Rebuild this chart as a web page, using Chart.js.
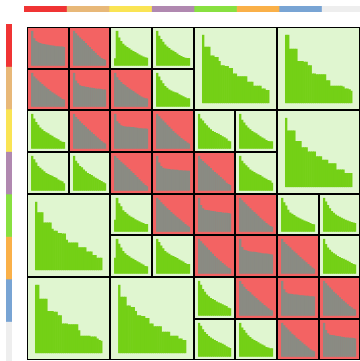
<!DOCTYPE html>
<html>
<head>
<meta charset="utf-8">
<script src="https://cdn.jsdelivr.net/npm/chart.js@4.4.1/dist/chart.umd.min.js"></script>
<style>
  html, body { margin: 0; padding: 0; background: #fff; }
  body { width: 360px; height: 361px; overflow: hidden; position: relative; }
  .block { position: absolute; box-sizing: border-box; box-shadow: inset 0 0 0 1px #000; }
  .block canvas { position: absolute; left: 0; top: 0; }
  .strip { position: absolute; }
</style>
</head>
<body>
<canvas id="strip-top" class="strip" width="340" height="6" style="left:24px;top:6px"></canvas>
<canvas id="strip-left" class="strip" width="6" height="340" style="left:6px;top:24px"></canvas>
<div id="grid"></div>
<script>
/* hierarchical matrix blocks: dense (red) vs low-rank (green), each with its singular value profile */

// clusters along both axes
const clusters = ["c1", "c2", "c3", "c4", "c5", "c6", "c7", "c8"];
const clusterSize = [1, 1, 1, 1, 1, 1, 1, 1];
const clusterColors = ["#f03434", "#e8b878", "#fae454", "#b088b0", "#88e040", "#fab048", "#78a4d4", "#eeeeee"];

// block layout (in cluster units)
const blockRow  = [0, 0, 0, 0, 0, 0, 1, 1, 1, 1, 2, 2, 2, 2, 2, 2, 2, 3, 3, 3, 3, 3, 3, 4, 4, 4, 4, 4, 4, 4, 5, 5, 5, 5, 5, 5, 6, 6, 6, 6, 6, 6, 7, 7, 7, 7];
const blockCol  = [0, 1, 2, 3, 4, 6, 0, 1, 2, 3, 0, 1, 2, 3, 4, 5, 6, 0, 1, 2, 3, 4, 5, 0, 2, 3, 4, 5, 6, 7, 2, 3, 4, 5, 6, 7, 0, 2, 4, 5, 6, 7, 4, 5, 6, 7];
const blockSpan = [1, 1, 1, 1, 2, 2, 1, 1, 1, 1, 1, 1, 1, 1, 1, 1, 2, 1, 1, 1, 1, 1, 1, 2, 1, 1, 1, 1, 1, 1, 1, 1, 1, 1, 1, 1, 2, 2, 1, 1, 1, 1, 1, 1, 1, 1];
const blockKind = ["D", "D", "L", "L", "L", "L", "D", "D", "D", "L", "L", "D", "D", "D", "L", "L", "L", "L", "L", "D", "D", "D", "L", "L", "L", "D", "D", "D", "L", "L", "L", "L", "D", "D", "D", "L", "L", "L", "L", "D", "D", "D", "L", "L", "D", "D"];

// normalised singular values per block
const sv_0_0 = [1.0, 0.78, 0.70, 0.66, 0.64, 0.62, 0.61, 0.60, 0.59, 0.58, 0.57, 0.56, 0.55, 0.55, 0.54, 0.54, 0.53];
const sv_0_1 = [1.0, 0.92, 0.86, 0.80, 0.75, 0.70, 0.64, 0.58, 0.53, 0.47, 0.41, 0.36, 0.30, 0.25, 0.21, 0.18, 0.16];
const sv_0_2 = [0.20, 1.0, 0.80, 0.70, 0.62, 0.57, 0.53, 0.49, 0.45, 0.41, 0.38, 0.35, 0.31, 0.28, 0.25, 0.23, 0.22];
const sv_0_3 = [1.0, 0.85, 0.76, 0.68, 0.60, 0.54, 0.50, 0.45, 0.42, 0.38, 0.34, 0.30, 0.27, 0.24, 0.22, 0.21, 0.21];
const sv_0_4 = [1.0, 0.82, 0.82, 0.82, 0.69, 0.69, 0.67, 0.67, 0.61, 0.55, 0.55, 0.54, 0.54, 0.51, 0.51, 0.43, 0.43, 0.39, 0.39, 0.39, 0.39, 0.39, 0.31, 0.31, 0.31, 0.25, 0.25, 0.25, 0.25, 0.21, 0.21, 0.19, 0.19];
const sv_0_6 = [1.0, 1.0, 0.79, 0.79, 0.79, 0.79, 0.61, 0.61, 0.61, 0.60, 0.60, 0.55, 0.55, 0.43, 0.43, 0.42, 0.42, 0.42, 0.42, 0.42, 0.33, 0.33, 0.25, 0.25, 0.25, 0.25, 0.25, 0.25, 0.24, 0.21, 0.21, 0.20, 0.18];
const sv_1_0 = [1.0, 0.88, 0.82, 0.76, 0.71, 0.66, 0.61, 0.56, 0.51, 0.46, 0.42, 0.38, 0.34, 0.30, 0.26, 0.22, 0.20];
const sv_1_1 = [1.0, 0.76, 0.68, 0.62, 0.60, 0.59, 0.58, 0.57, 0.56, 0.55, 0.54, 0.53, 0.52, 0.52, 0.51, 0.50, 0.50];
const sv_1_2 = [1.0, 0.86, 0.78, 0.72, 0.66, 0.62, 0.57, 0.53, 0.49, 0.45, 0.41, 0.37, 0.33, 0.29, 0.26, 0.24, 0.23];
const sv_1_3 = [1.0, 0.88, 0.77, 0.68, 0.60, 0.55, 0.50, 0.47, 0.44, 0.42, 0.40, 0.36, 0.33, 0.30, 0.27, 0.24, 0.24];
const sv_2_0 = [1.0, 0.86, 0.76, 0.68, 0.60, 0.55, 0.50, 0.46, 0.43, 0.39, 0.36, 0.32, 0.29, 0.26, 0.22, 0.19, 0.18];
const sv_2_1 = [1.0, 0.90, 0.84, 0.78, 0.72, 0.67, 0.62, 0.56, 0.51, 0.46, 0.41, 0.36, 0.31, 0.26, 0.21, 0.17, 0.14];
const sv_2_2 = [1.0, 0.78, 0.72, 0.66, 0.64, 0.63, 0.62, 0.62, 0.61, 0.61, 0.60, 0.59, 0.58, 0.58, 0.57, 0.57, 0.56];
const sv_2_3 = [1.0, 0.92, 0.86, 0.80, 0.74, 0.68, 0.62, 0.56, 0.50, 0.45, 0.40, 0.35, 0.30, 0.25, 0.21, 0.17, 0.14];
const sv_2_4 = [1.0, 0.86, 0.80, 0.72, 0.66, 0.60, 0.55, 0.50, 0.47, 0.44, 0.42, 0.38, 0.35, 0.32, 0.28, 0.22, 0.20];
const sv_2_5 = [1.0, 0.82, 0.74, 0.66, 0.60, 0.55, 0.50, 0.46, 0.43, 0.39, 0.35, 0.31, 0.28, 0.24, 0.21, 0.20, 0.20];
const sv_2_6 = [1.0, 0.81, 0.81, 0.81, 0.81, 0.66, 0.66, 0.66, 0.57, 0.57, 0.57, 0.51, 0.51, 0.51, 0.51, 0.44, 0.44, 0.44, 0.39, 0.39, 0.39, 0.34, 0.34, 0.34, 0.34, 0.25, 0.25, 0.25, 0.25, 0.20, 0.20, 0.20, 0.20];
const sv_3_0 = [1.0, 0.89, 0.80, 0.70, 0.65, 0.60, 0.55, 0.50, 0.47, 0.44, 0.42, 0.38, 0.36, 0.31, 0.28, 0.26, 0.20];
const sv_3_1 = [1.0, 0.85, 0.78, 0.70, 0.66, 0.60, 0.55, 0.50, 0.47, 0.44, 0.40, 0.36, 0.33, 0.30, 0.27, 0.23, 0.20];
const sv_3_2 = [1.0, 0.93, 0.87, 0.82, 0.77, 0.72, 0.66, 0.61, 0.55, 0.50, 0.44, 0.38, 0.32, 0.26, 0.20, 0.15, 0.12];
const sv_3_3 = [1.0, 0.80, 0.70, 0.65, 0.63, 0.62, 0.61, 0.60, 0.60, 0.59, 0.59, 0.58, 0.58, 0.57, 0.57, 0.56, 0.56];
const sv_3_4 = [1.0, 0.90, 0.84, 0.79, 0.74, 0.69, 0.64, 0.58, 0.53, 0.48, 0.43, 0.38, 0.33, 0.28, 0.22, 0.18, 0.15];
const sv_3_5 = [1.0, 0.85, 0.78, 0.72, 0.66, 0.60, 0.56, 0.53, 0.49, 0.46, 0.44, 0.40, 0.36, 0.33, 0.30, 0.28, 0.22];
const sv_4_0 = [1.0, 0.84, 0.84, 0.84, 0.69, 0.69, 0.69, 0.69, 0.60, 0.57, 0.57, 0.54, 0.54, 0.53, 0.53, 0.44, 0.40, 0.40, 0.40, 0.40, 0.40, 0.33, 0.33, 0.33, 0.33, 0.27, 0.27, 0.27, 0.22, 0.22, 0.18, 0.18, 0.18];
const sv_4_2 = [0.34, 1.0, 0.83, 0.74, 0.62, 0.57, 0.52, 0.47, 0.43, 0.40, 0.36, 0.33, 0.30, 0.27, 0.25, 0.22, 0.22];
const sv_4_3 = [1.0, 0.93, 0.86, 0.80, 0.74, 0.68, 0.63, 0.57, 0.52, 0.47, 0.42, 0.37, 0.32, 0.27, 0.22, 0.17, 0.14];
const sv_4_4 = [1.0, 0.78, 0.68, 0.64, 0.63, 0.62, 0.61, 0.60, 0.59, 0.58, 0.57, 0.57, 0.56, 0.55, 0.55, 0.54, 0.53];
const sv_4_5 = [1.0, 0.92, 0.86, 0.80, 0.74, 0.68, 0.62, 0.57, 0.52, 0.46, 0.40, 0.35, 0.30, 0.25, 0.20, 0.16, 0.14];
const sv_4_6 = [1.0, 0.86, 0.76, 0.64, 0.56, 0.52, 0.48, 0.44, 0.41, 0.38, 0.35, 0.32, 0.30, 0.28, 0.25, 0.22, 0.21];
const sv_4_7 = [1.0, 0.88, 0.78, 0.68, 0.60, 0.55, 0.50, 0.46, 0.43, 0.40, 0.37, 0.34, 0.32, 0.30, 0.28, 0.26, 0.25];
const sv_5_2 = [0.45, 1.0, 0.85, 0.74, 0.64, 0.58, 0.53, 0.49, 0.45, 0.42, 0.38, 0.35, 0.32, 0.28, 0.25, 0.21, 0.20];
const sv_5_3 = [1.0, 0.90, 0.80, 0.72, 0.64, 0.60, 0.56, 0.52, 0.50, 0.47, 0.44, 0.40, 0.37, 0.34, 0.30, 0.27, 0.27];
const sv_5_4 = [1.0, 0.92, 0.86, 0.80, 0.74, 0.68, 0.62, 0.56, 0.50, 0.45, 0.40, 0.35, 0.30, 0.25, 0.20, 0.16, 0.14];
const sv_5_5 = [1.0, 0.76, 0.68, 0.66, 0.64, 0.63, 0.62, 0.62, 0.61, 0.60, 0.59, 0.58, 0.57, 0.57, 0.56, 0.55, 0.54];
const sv_5_6 = [1.0, 0.90, 0.84, 0.79, 0.74, 0.68, 0.63, 0.58, 0.52, 0.47, 0.42, 0.37, 0.32, 0.27, 0.22, 0.17, 0.13];
const sv_5_7 = [1.0, 0.84, 0.74, 0.68, 0.62, 0.58, 0.54, 0.50, 0.47, 0.44, 0.42, 0.39, 0.36, 0.33, 0.30, 0.27, 0.25];
const sv_6_0 = [1.0, 1.0, 0.79, 0.79, 0.79, 0.79, 0.61, 0.61, 0.61, 0.60, 0.60, 0.55, 0.55, 0.43, 0.43, 0.43, 0.42, 0.42, 0.42, 0.42, 0.42, 0.33, 0.25, 0.25, 0.25, 0.25, 0.25, 0.24, 0.24, 0.24, 0.21, 0.19, 0.18];
const sv_6_2 = [1.0, 0.82, 0.82, 0.82, 0.69, 0.69, 0.67, 0.67, 0.61, 0.55, 0.55, 0.54, 0.54, 0.51, 0.51, 0.43, 0.43, 0.39, 0.39, 0.39, 0.39, 0.31, 0.31, 0.31, 0.31, 0.25, 0.25, 0.25, 0.25, 0.21, 0.21, 0.19, 0.19];
const sv_6_4 = [1.0, 0.88, 0.76, 0.68, 0.60, 0.55, 0.50, 0.47, 0.44, 0.40, 0.37, 0.35, 0.32, 0.29, 0.27, 0.22, 0.20];
const sv_6_5 = [1.0, 0.90, 0.82, 0.76, 0.70, 0.66, 0.60, 0.55, 0.50, 0.45, 0.40, 0.35, 0.30, 0.25, 0.20, 0.16, 0.14];
const sv_6_6 = [1.0, 0.75, 0.66, 0.63, 0.62, 0.61, 0.60, 0.60, 0.59, 0.58, 0.58, 0.57, 0.56, 0.56, 0.55, 0.55, 0.54];
const sv_6_7 = [1.0, 0.92, 0.86, 0.80, 0.74, 0.68, 0.63, 0.58, 0.52, 0.47, 0.42, 0.37, 0.32, 0.27, 0.23, 0.19, 0.17];
const sv_7_4 = [1.0, 0.90, 0.80, 0.72, 0.66, 0.60, 0.56, 0.52, 0.48, 0.45, 0.42, 0.40, 0.37, 0.34, 0.30, 0.27, 0.25];
const sv_7_5 = [1.0, 0.85, 0.78, 0.70, 0.62, 0.57, 0.52, 0.48, 0.45, 0.42, 0.38, 0.35, 0.32, 0.28, 0.26, 0.24, 0.24];
const sv_7_6 = [1.0, 0.92, 0.85, 0.79, 0.73, 0.67, 0.62, 0.56, 0.51, 0.46, 0.41, 0.36, 0.31, 0.26, 0.21, 0.17, 0.15];
const sv_7_7 = [1.0, 0.78, 0.68, 0.64, 0.63, 0.62, 0.61, 0.60, 0.59, 0.58, 0.57, 0.56, 0.56, 0.55, 0.55, 0.54, 0.53];

const blockValues = [
  sv_0_0, sv_0_1, sv_0_2, sv_0_3, sv_0_4, sv_0_6,
  sv_1_0, sv_1_1, sv_1_2, sv_1_3,
  sv_2_0, sv_2_1, sv_2_2, sv_2_3, sv_2_4, sv_2_5, sv_2_6,
  sv_3_0, sv_3_1, sv_3_2, sv_3_3, sv_3_4, sv_3_5,
  sv_4_0, sv_4_2, sv_4_3, sv_4_4, sv_4_5, sv_4_6, sv_4_7,
  sv_5_2, sv_5_3, sv_5_4, sv_5_5, sv_5_6, sv_5_7,
  sv_6_0, sv_6_2, sv_6_4, sv_6_5, sv_6_6, sv_6_7,
  sv_7_4, sv_7_5, sv_7_6, sv_7_7,
];

(function () {
  const kindStyle = {
    D: { bg: "#f36363", bar: "#8a8b83" },
    L: { bg: "#e0f6d0", bar: "#74d016" },
  };
  const origin = 27;
  const unit = 333.33 / clusters.length;
  const total = clusterSize.reduce((a, b) => a + b, 0);

  const baseOptions = {
    responsive: false,
    animation: false,
    events: [],
    devicePixelRatio: 1,
    plugins: { legend: { display: false }, tooltip: { enabled: false } },
  };

  function stripChart(canvas, vertical) {
    return new Chart(canvas, {
      type: "bar",
      data: {
        labels: [""],
        datasets: clusters.map((c, i) => ({
          label: c,
          data: [clusterSize[i]],
          backgroundColor: clusterColors[i],
          borderWidth: 0,
          barPercentage: 1,
          categoryPercentage: 1,
        })),
      },
      options: {
        ...baseOptions,
        indexAxis: vertical ? "x" : "y",
        layout: { padding: 0 },
        scales: vertical
          ? { x: { stacked: true, display: false }, y: { stacked: true, display: false, min: 0, max: total, reverse: true } }
          : { x: { stacked: true, display: false, min: 0, max: total }, y: { stacked: true, display: false } },
      },
    });
  }

  stripChart(document.getElementById("strip-top"), false);
  stripChart(document.getElementById("strip-left"), true);

  const grid = document.getElementById("grid");
  blockValues.forEach((vals, i) => {
    const r = blockRow[i], c = blockCol[i], s = blockSpan[i];
    const style = kindStyle[blockKind[i]];
    const x0 = Math.round(origin + c * unit);
    const x1 = Math.round(origin + (c + s) * unit);
    const y0 = Math.round(origin + r * unit);
    const y1 = Math.round(origin + (r + s) * unit);
    const w = x1 - x0, h = y1 - y0;

    const div = document.createElement("div");
    div.className = "block";
    div.style.cssText = `left:${x0}px;top:${y0}px;width:${w}px;height:${h}px;background:${style.bg}`;
    const cv = document.createElement("canvas");
    cv.width = w;
    cv.height = h;
    div.appendChild(cv);
    grid.appendChild(div);

    new Chart(cv, {
      type: "bar",
      data: {
        labels: vals.map((_, k) => k + 1),
        datasets: [{ data: vals, backgroundColor: style.bar, borderWidth: 0, barPercentage: 1, categoryPercentage: 1 }],
      },
      options: {
        ...baseOptions,
        layout: { padding: { left: w * 0.096, right: w * 0.09, top: h * 0.092, bottom: h * 0.08 } },
        scales: { x: { display: false }, y: { display: false, min: 0, max: 1 } },
      },
    });
  });
})();
</script>
</body>
</html>
